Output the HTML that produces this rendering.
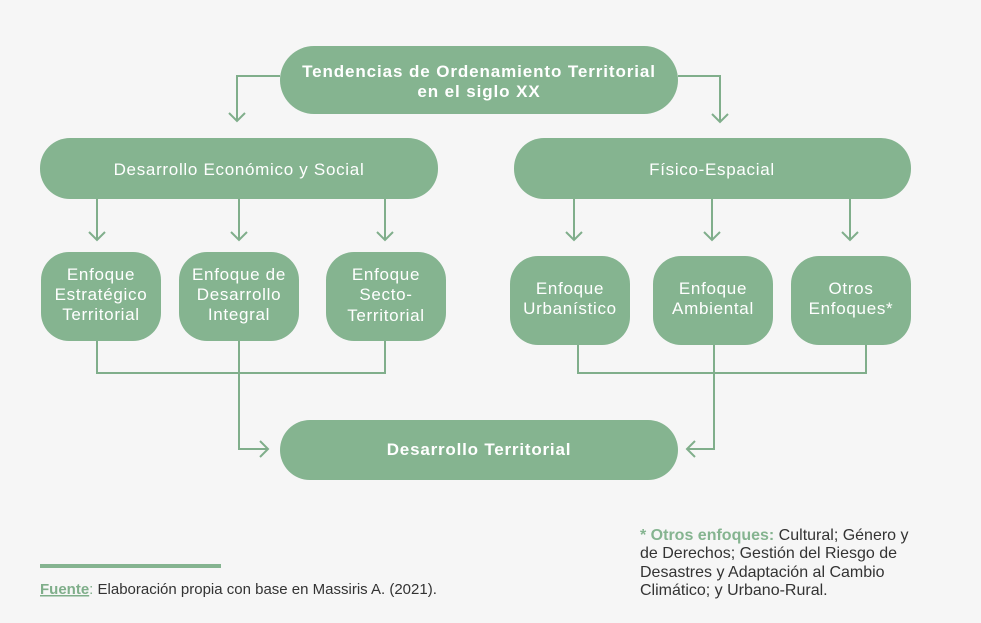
<!DOCTYPE html>
<html><head><meta charset="utf-8"><style>
html,body{margin:0;padding:0;background:#f6f6f6;width:981px;height:623px;overflow:hidden}
svg text{font-family:"Liberation Sans",sans-serif}
</style></head><body>
<svg width="981" height="623" viewBox="0 0 981 623" xmlns="http://www.w3.org/2000/svg">
<rect width="981" height="623" fill="#f6f6f6"/>
<g fill="#85b490">
<rect x="280" y="46" width="398" height="68" rx="34"/>
<rect x="40" y="138" width="398" height="61" rx="30"/>
<rect x="514" y="138" width="397" height="61" rx="30"/>
<rect x="41" y="252" width="120" height="89" rx="28"/>
<rect x="179" y="252" width="120" height="89" rx="28"/>
<rect x="326" y="252" width="120" height="89" rx="28"/>
<rect x="510" y="256" width="120" height="89" rx="28"/>
<rect x="653" y="256" width="120" height="89" rx="28"/>
<rect x="791" y="256" width="120" height="89" rx="28"/>
<rect x="280" y="420" width="398" height="60" rx="30"/>
</g>
<g fill="none" stroke="#80ae8b" stroke-width="2">
<path d="M280 76H237V121M229 113l8 8 8-8"/>
<path d="M678 76H720V122M712 114l8 8 8-8"/>
<path d="M97 199V240M89 232l8 8 8-8"/>
<path d="M239 199V240M231 232l8 8 8-8"/>
<path d="M385 199V240M377 232l8 8 8-8"/>
<path d="M574 199V240M566 232l8 8 8-8"/>
<path d="M712 199V240M704 232l8 8 8-8"/>
<path d="M850 199V240M842 232l8 8 8-8"/>
<path d="M97 341V373H385V341M239 341V449H268M260 441l8 8-8 8"/>
<path d="M578 345V373H866V345M714 345V449H687M695 441l-8 8 8 8"/>
</g>
<g fill="#fff" font-size="17" text-anchor="middle" letter-spacing="0.7">
<text x="479" y="77" font-weight="bold" letter-spacing="0.9">Tendencias de Ordenamiento Territorial</text>
<text x="479" y="97" font-weight="bold" letter-spacing="0.9">en el siglo XX</text>
<text x="239" y="175">Desarrollo Económico y Social</text>
<text x="712" y="175">Físico-Espacial</text>
<text x="101" y="280">Enfoque</text><text x="101" y="300">Estratégico</text><text x="101" y="320">Territorial</text>
<text x="239" y="280">Enfoque de</text><text x="239" y="300">Desarrollo</text><text x="239" y="320">Integral</text>
<text x="386" y="280">Enfoque</text><text x="386" y="300">Secto-</text><text x="386" y="321">Territorial</text>
<text x="570" y="294">Enfoque</text><text x="570" y="314">Urbanístico</text>
<text x="713" y="294">Enfoque</text><text x="713" y="314">Ambiental</text>
<text x="851" y="294">Otros</text><text x="851" y="314">Enfoques*</text>
<text x="479" y="455" font-weight="bold" letter-spacing="0.8">Desarrollo Territorial</text>
</g>
<rect x="40" y="564" width="181" height="4" fill="#85b490"/>
<text x="40" y="594" font-size="15" fill="#333"><tspan fill="#7fae8a" font-weight="bold" text-decoration="underline">Fuente</tspan><tspan fill="#7fae8a">:</tspan> Elaboración propia con base en Massiris A. (2021).</text>
<g font-size="16" fill="#333">
<text x="640" y="540"><tspan fill="#85b490" font-weight="bold">* Otros enfoques:</tspan> Cultural; Género y</text>
<text x="640" y="558">de Derechos; Gestión del Riesgo de</text>
<text x="640" y="577">Desastres y Adaptación al Cambio</text>
<text x="640" y="595">Climático; y Urbano-Rural.</text>
</g>
</svg>
</body></html>
